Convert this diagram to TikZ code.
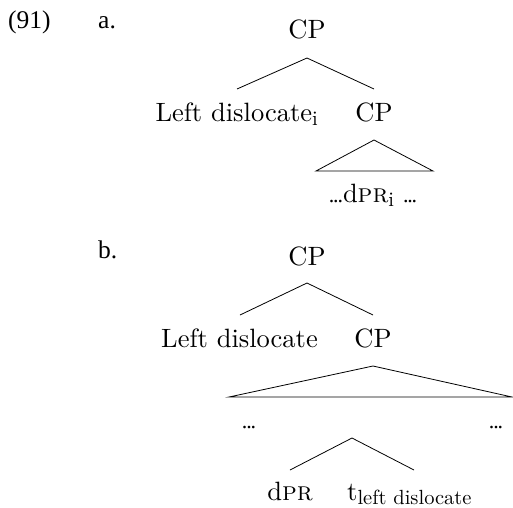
\documentclass[tikz,border=0pt]{standalone}
\usepackage{fontspec}
\setmainfont{lmroman10-regular}[Extension=.otf, SmallCapsFont=lmromancaps10-regular, BoldFont=lmroman10-bold, ItalicFont=lmroman10-italic]
\newfontfamily\tnr{Liberation Serif}
\begin{document}
\begin{tikzpicture}[x=1pt,y=-1pt,
  lbl/.style={inner sep=0pt,anchor=base,font=\fontsize{26.5}{30}\selectfont},
  tlbl/.style={inner sep=0pt,anchor=base west,font=\tnr\fontsize{25.5}{30}\selectfont},
  dts/.style={inner sep=0pt,anchor=base,font=\tnr\fontsize{22}{30}\selectfont},
  br/.style={line width=0.8pt}]
\useasboundingbox (0,0) rectangle (513,507);
\newcommand{\mydots}{.\kern-1.2pt.\kern-1.2pt.}
\newcommand{\mysub}[1]{\raisebox{-4pt}{\fontsize{20.5}{22}\selectfont #1}}
% (91) a.
\node[tlbl] (num) at (8,28) {(91)};
\node[tlbl] (la) at (98,28) {a.};
\node[lbl] (cpA) at (307,38) {CP};
\coordinate (aTop) at (307,58);
\coordinate (aL) at (237,89);
\coordinate (aR) at (374,89);
\draw[br] (aL) -- (aTop) -- (aR);
\node[lbl,anchor=base east] (ldA) at (318,121) {Left dislocate\mysub{i}};
\node[lbl] (cpA2) at (374,121) {CP};
\coordinate (tA) at (374,140);
\coordinate (tAL) at (316,171);
\coordinate (tAR) at (433,171);
\draw[br] (tAL) -- (tA) -- (tAR) -- cycle;
\node[lbl] (dprA) at (373,202) {{\tnr\fontsize{22}{30}\selectfont\mydots}d\textsc{pr}\mysub{i}\ {\tnr\fontsize{22}{30}\selectfont\mydots}};
% b.
\node[tlbl] (lb) at (98,258) {b.};
\node[lbl] (cpB) at (307,265) {CP};
\coordinate (bTop) at (307,283);
\coordinate (bL) at (240,315);
\coordinate (bR) at (373,315);
\draw[br] (bL) -- (bTop) -- (bR);
\node[lbl,anchor=base east] (ldB) at (318,347) {Left dislocate};
\node[lbl] (cpB2) at (373,347) {CP};
\coordinate (tB) at (373,366);
\coordinate (tBL) at (229,397);
\coordinate (tBR) at (512,397);
\draw[br] (tBL) -- (tB) -- (tBR) -- cycle;
\node[dts] (dL) at (249,428) {\mydots};
\node[dts] (dR) at (496,428) {\mydots};
\coordinate (cTop) at (352,438);
\coordinate (cL) at (290,470);
\coordinate (cR) at (414,470);
\draw[br] (cL) -- (cTop) -- (cR);
\node[lbl] (dprB) at (290,500) {d\textsc{pr}};
\node[lbl,anchor=base west] (tLD) at (347,500) {t\mysub{left dislocate}};
\end{tikzpicture}
\end{document}
